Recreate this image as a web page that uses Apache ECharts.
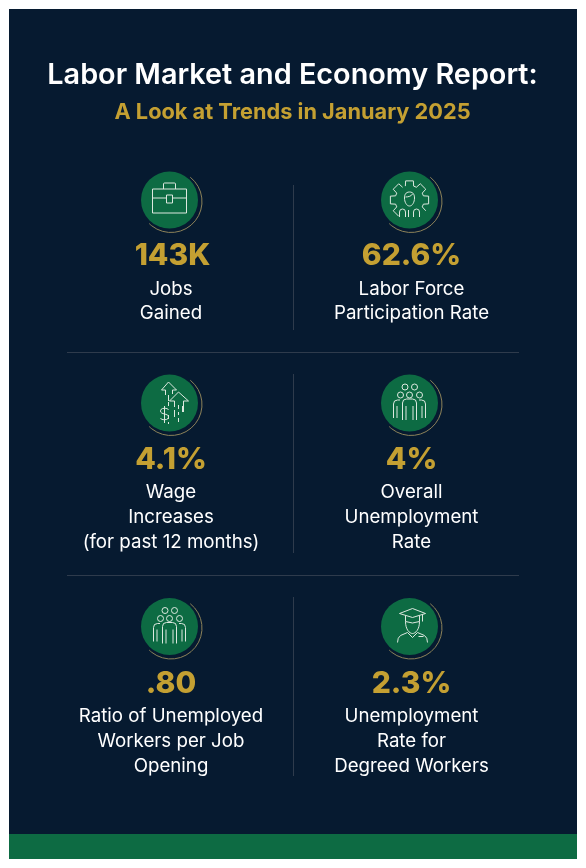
<!DOCTYPE html>
<html><head><meta charset="utf-8">
<style>html,body{margin:0;padding:0;background:#fff}#c{width:586px;height:868px}</style>
<script src="https://cdn.jsdelivr.net/npm/echarts@6/dist/echarts.min.js"></script></head>
<body><div id="c"></div>
<script>
const titleText = 'Labor Market and Economy Report:';
const subtitleText = 'A Look at Trends in January 2025';
const metricValues = ['143K','62.6%','4.1%','4%','.80','2.3%'];
const metricLabels = [
  ['Jobs','Gained'],
  ['Labor Force','Participation Rate'],
  ['Wage','Increases','(for past 12 months)'],
  ['Overall','Unemployment','Rate'],
  ['Ratio of Unemployed','Workers per Job','Opening'],
  ['Unemployment','Rate for','Degreed Workers']
];
const NAVY='#061A30', GREEN='#0D6B43', GOLD='#C4A032', WHITE='#FFFFFF', ICON='#DDE8DF', RULE='#2E3B4C', ARC='#8C8259';
const FONT='Inter, "Open Sans", sans-serif';

function circ(x,y,r){return `M${x-r} ${y}A${r} ${r} 0 1 1 ${x+r} ${y}A${r} ${r} 0 1 1 ${x-r} ${y}Z`;}
function gearPath(){
  let d='';const n=8,R=19.5,r=14.5;
  for(let i=0;i<n;i++){
    const a=-Math.PI/2+i*2*Math.PI/n, t=0.2, u=0.29;
    const p=[[r,a-u],[R,a-t],[R,a+t],[r,a+u]];
    p.forEach((q)=>{
      const ang=q[1];
      const norm=Math.atan2(Math.sin(ang),Math.cos(ang));
      const skip=(norm>0.8&&norm<2.35);
      const X=(q[0]*Math.cos(ang)).toFixed(2),Y=(q[0]*Math.sin(ang)).toFixed(2);
      d+=((d===''||skip)?'M':'L')+X+' '+Y;
    });
  }
  return d;
}
const groupIcon=circ(-4.5,-16,3)+circ(5,-16,3)+circ(-9,-8,3)+circ(0,-8,3)+circ(10,-8,3)
  +'M-7 17V0Q-7 -4 -3 -4H3Q7 -4 7 0V17M-3.5 3V17M3.5 3V17'
  +'M-16 15V1Q-16 -3 -12 -3H-9.5M-12.5 3V15M16 15V1Q16 -3 12 -3H9.5M12.5 3V15';
const icons=[
  'M-17 -11H17V13H-17ZM-6 -11V-16Q-6 -17 -5 -17H5Q6 -17 6 -16V-11M-17 -2H-3M3 -2H17M-3 -5H3V3H-3Z',
  gearPath()+'M0 -8C-4 -8 -5 -5 -5 -2C-5 2 -3 6 0 6C3 6 5 2 5 -2C5 -5 4 -8 0 -8ZM-4 -3C-1 -3 2 -4 3 -6M-10 17V12Q-10 9 -7 9Q-4 9 -4 12V17M4 17V12Q4 9 7 9Q10 9 10 12V17M-1 10V17',
  'M-8 -13L-1 -21L7 -13H3V-9M-8 -13H-4V-8M-1 -8V-4M-1 -1V3M-1 12V16M-1 19V21M-1 -4V-2'
   +'M0 -2L9 -11L19 -2H14V9M0 -2H5V4M5 7V14M9 2V6M9 9V12M9 15V19M13 3V9'
   +'M-1 7C-1 5 -9 4 -9 8C-9 12 -1 10 -1 14C-1 18 -9 17 -9 15M-5 3V20',
  groupIcon,
  groupIcon,
  'M-10 -13L3 -18L16 -13L3 -9ZM-4 -11V-5Q3 -2 10 -5V-11M-4 -5C-4 3 0 7 3 7C6 7 10 3 10 -5M13 -12V-5M-2 6L-9 9Q-12 11 -12 16M8 6L15 9Q18 11 18 16M-2 6L3 11L8 6M9 10H14'
];
const colX=[169.5,409.5], textX=[171,411.5];
const rowIconY=[200,403,626.5];
const rowValueY=[256,459.5,683.5];
const lineStep=24.6;
const g=[];
const txt=(x,y,t,size,weight,fill)=>g.push({type:'text',x,y,style:{text:t,font:`${weight} ${size}px ${FONT}`,fill,textAlign:'center',textVerticalAlign:'middle'}});
const line=(x1,y1,x2,y2)=>g.push({type:'line',shape:{x1,y1,x2,y2},style:{stroke:RULE,lineWidth:1}});
g.push({type:'rect',shape:{x:9,y:9,width:568,height:850},style:{fill:NAVY}});
g.push({type:'rect',shape:{x:9,y:834,width:568,height:25},style:{fill:GREEN}});
txt(292.5,75.5,titleText,28.8,600,WHITE);
txt(292.5,112.5,subtitleText,21.75,700,GOLD);
line(67,352.5,519,352.5); line(67,575.5,519,575.5);
[[185,330],[374,553],[597,776]].forEach(r=>line(293.5,r[0],293.5,r[1]));
metricValues.forEach((v,i)=>{
  const c=i%2,r=(i-c)/2,cx=colX[c],cy=rowIconY[r];
  g.push({type:'arc',shape:{cx:cx+1.5,cy:cy+1.5,r:31,startAngle:-0.9,endAngle:2.35,clockwise:true},style:{stroke:ARC,lineWidth:1,fill:'transparent'}});
  g.push({type:'circle',shape:{cx,cy,r:28.5},style:{fill:GREEN}});
  txt(textX[c]+(i===0?1.5:0),rowValueY[r],v,30,800,GOLD);
  metricLabels[i].forEach((t,k)=>txt(textX[c],rowValueY[r]+33.2+k*lineStep,t,18.7,400,WHITE));
});
const chart=echarts.init(document.getElementById('c'),null,{renderer:'canvas'});
chart.setOption({animation:false,graphic:{elements:g},
 series:[{type:'custom',coordinateSystem:'none',silent:true,z:10,data:icons.map((_,i)=>i),
  renderItem:(params)=>{
    const i=params.dataIndex,c=i%2,r=(i-c)/2;
    return {type:'path',x:colX[c],y:rowIconY[r],shape:{pathData:icons[i]},style:{stroke:ICON,lineWidth:1,fill:'transparent'}};
  }}]});
</script></body></html>
